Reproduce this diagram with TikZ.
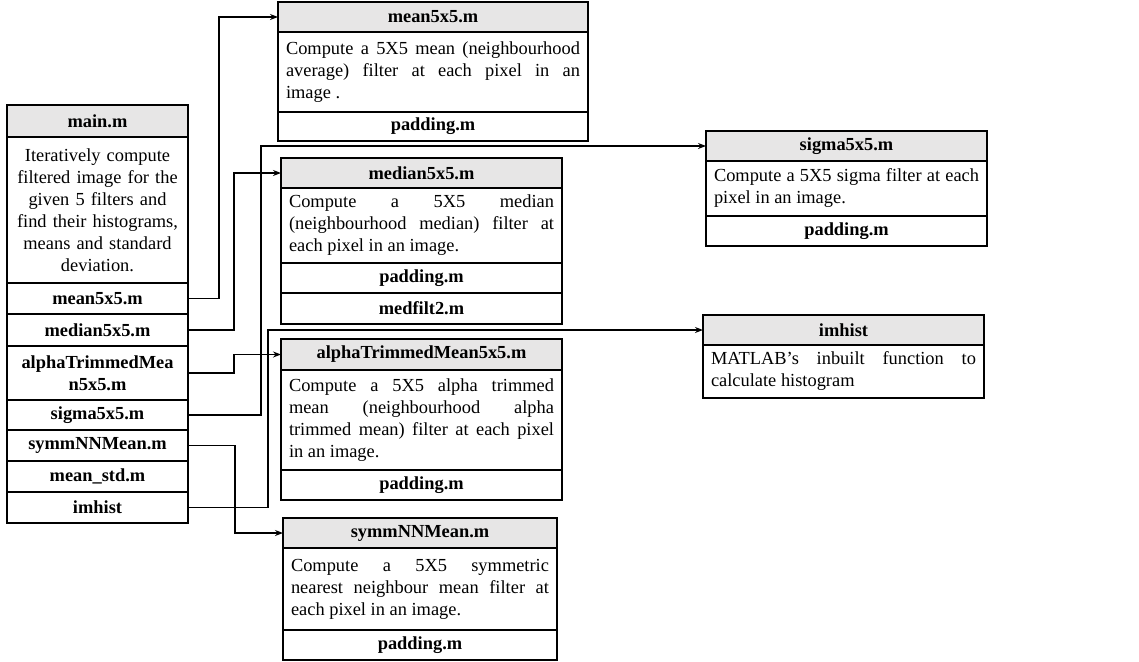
\documentclass[tikz,border=0pt]{standalone}
\usepackage{fontspec}
\setmainfont{Liberation Serif}
\usetikzlibrary{positioning, arrows.meta}
\definecolor{headgray}{HTML}{E7E6E6}
\hyphenpenalty=10000
\tolerance=10000

\begin{document}
\begin{tikzpicture}[x=0.75pt, y=-0.75pt,
    cell/.style={draw, line width=1.4pt, outer sep=0pt, inner sep=0pt, align=center, minimum width=#1, minimum height=22.5pt, font=\fontsize{13.8}{16.5}\selectfont\bfseries},
    head/.style={cell=#1, fill=headgray},
    desc/.style 2 args={draw, line width=1.4pt, outer sep=0pt, inner xsep=6pt, inner ysep=0pt, text width=#1, minimum height=#2, align=justify, font=\fontsize{13.8}{16.5}\selectfont},
    arrow/.style={-{Stealth[length=6pt, width=4.5pt]}, line width=1.1pt}
]
\useasboundingbox (0,0) rectangle (1139,661);

% main.m and the files it calls
\node[head=135.75pt, minimum height=24pt, anchor=north west] (main) at (7,105) {main.m};
\node[desc={123.75pt}{109.5pt}, align=center, below=0pt of main] (maindesc) {Iteratively compute\\ filtered image for the\\ given 5 filters and\\ find their histograms,\\ means and standard\\ deviation.};
\node[cell=135.75pt, minimum height=23.25pt, below=0pt of maindesc] (callmean) {mean5x5.m};
\node[cell=135.75pt, minimum height=24pt, below=0pt of callmean] (callmedian) {median5x5.m};
\node[cell=135.75pt, minimum height=40.5pt, below=0pt of callmedian] (callalpha) {alphaTrimmedMea\\ n5x5.m};
\node[cell=135.75pt, below=0pt of callalpha] (callsigma) {sigma5x5.m};
\node[cell=135.75pt, minimum height=23.25pt, below=0pt of callsigma] (callsymm) {symmNNMean.m};
\node[cell=135.75pt, minimum height=23.25pt, below=0pt of callsymm] (callstd) {mean\_std.m};
\node[cell=135.75pt, minimum height=23.25pt, below=0pt of callstd] (callhist) {imhist};

% mean filter
\node[head=232.5pt, anchor=north west] (mean) at (278,2) {mean5x5.m};
\node[desc={220.5pt}{60pt}, below=0pt of mean] (meandesc) {Compute a 5X5 mean (neighbourhood\linebreak average) filter at each pixel in an\linebreak image .};
\node[cell=232.5pt, minimum height=21.75pt, below=0pt of meandesc] (meanpad) {padding.m};

% median filter
\node[head=210.75pt, anchor=north west] (median) at (281,158) {median5x5.m};
\node[desc={198.75pt}{56.25pt}, below=0pt of median] (mediandesc) {Compute a 5X5 median\linebreak (neighbourhood median) filter at\linebreak each pixel in an image.};
\node[cell=210.75pt, below=0pt of mediandesc] (medianpad) {padding.m};
\node[cell=210.75pt, minimum height=23.25pt, below=0pt of medianpad] (medfilt) {medfilt2.m};

% alpha trimmed mean filter
\node[head=210.75pt, minimum height=23.25pt, anchor=north west] (alpha) at (281,339) {alphaTrimmedMean5x5.m};
\node[desc={198.75pt}{75pt}, below=0pt of alpha] (alphadesc) {Compute a 5X5 alpha trimmed\linebreak mean (neighbourhood alpha\linebreak trimmed mean) filter at each pixel\linebreak in an image.};
\node[cell=210.75pt, below=0pt of alphadesc] (alphapad) {padding.m};

% symmetric nearest neighbour filter
\node[head=205.5pt, anchor=north west] (symm) at (283,518) {symmNNMean.m};
\node[desc={193.5pt}{61.5pt}, below=0pt of symm] (symmdesc) {Compute a 5X5 symmetric\linebreak nearest neighbour mean filter at\linebreak each pixel in an image.};
\node[cell=205.5pt, below=0pt of symmdesc] (symmpad) {padding.m};

% sigma filter
\node[head=210.75pt, anchor=north west] (sigma) at (706,131) {sigma5x5.m};
\node[desc={198.75pt}{41.25pt}, below=0pt of sigma] (sigmadesc) {Compute a 5X5 sigma filter at each\linebreak pixel in an image.};
\node[cell=210.75pt, below=0pt of sigmadesc] (sigmapad) {padding.m};

% histogram
\node[head=210.75pt, anchor=north west] (imhist) at (703,315) {imhist};
\node[desc={198.75pt}{39.75pt}, below=0pt of imhist] (imhistdesc) {MATLAB’s inbuilt function to\linebreak calculate histogram};

% calls from main.m
\draw[arrow] (callmean.east) -- ++(31,0) |- (mean.west);
\draw[arrow] (callmedian.east) -- ++(46,0) |- (median.west);
\draw[arrow] (callalpha.east) -- ++(46,0) |- (alpha.west);
\draw[arrow] (callsigma.east) -- ++(73,0) |- (sigma.west);
\draw[arrow] (callsymm.east) -- ++(47,0) |- (symm.west);
\draw[arrow] (callhist.east) -- ++(80,0) |- (imhist.west);

\end{tikzpicture}
\end{document}
